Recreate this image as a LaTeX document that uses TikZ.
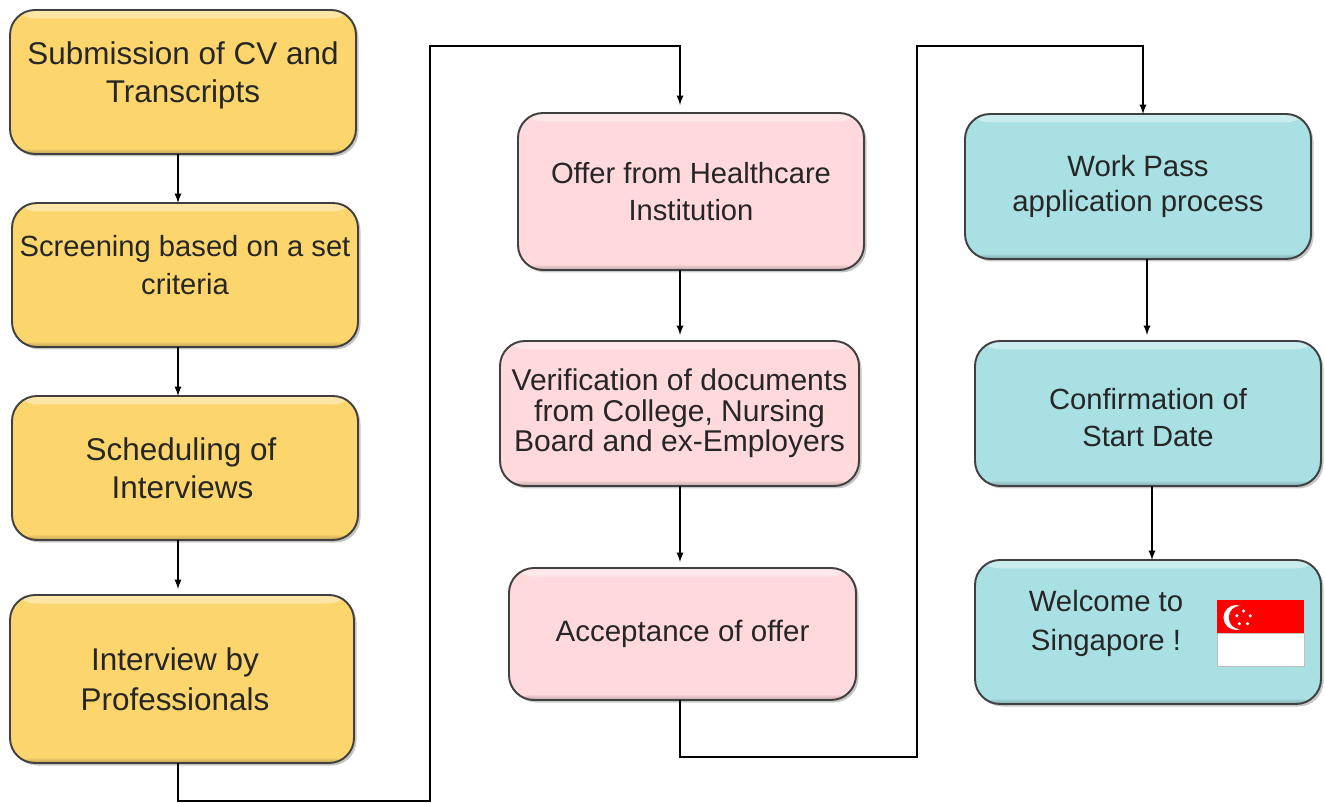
\documentclass[tikz,border=0pt]{standalone}
\usepackage{fontspec}
\setmainfont{Liberation Sans}
\usetikzlibrary{positioning,shadows}

\definecolor{cvyellow}{HTML}{FCD66C}
\definecolor{offerpink}{HTML}{FFD9DC}
\definecolor{passteal}{HTML}{A9E0E3}
\definecolor{flagred}{HTML}{FF0000}

\begin{document}
\begin{tikzpicture}[-latex, semithick,
                    stage/.style={draw=black!75, line width=1.1pt, fill=#1, rounded corners=.5cm, outer sep=0pt,
                                  inner sep=1pt, align=center, text=black!85,
                                  font=\fontsize{16.6}{21.5}\selectfont,
                                  drop shadow={shadow xshift=.05cm, shadow yshift=-.05cm, opacity=.45},
                                  path picture={\shade[draw=none, top color=#1!60!white, bottom color=#1]
                                                (path picture bounding box.north west) rectangle
                                                ([yshift=-.17cm]path picture bounding box.north east);
                                                \shade[draw=none, top color=#1, bottom color=#1!75!black]
                                                ([yshift=.12cm]path picture bounding box.south west) rectangle
                                                (path picture bounding box.south east);}},
                    flow/.style={-latex, black, line width=.85pt, rounded corners=0pt},
                    gap/.style={shorten >=.12cm}]
\useasboundingbox (0,0) rectangle (26.5,-16.06);

% column guides for the connectors
\coordinate (colA) at (3.56,0);
\coordinate (colB) at (13.6,0);
\coordinate (colC) at (22.94,0);
\coordinate (colD) at (23.04,0);
\coordinate (colE) at (22.86,0);
\coordinate (busA) at (8.6,-16.02);
\coordinate (topA) at (8.6,-.92);
\coordinate (busB) at (18.34,-15.14);
\coordinate (topB) at (18.34,-.92);

% CV nodes
\node[stage=cvyellow, minimum width=6.92cm, minimum height=2.88cm, text depth=.4cm, font=\fontsize{17.9}{21.5}\selectfont] (submit) at (3.66,-1.64) {Submission of CV and\\Transcripts};
\node[stage=cvyellow, minimum width=6.92cm, minimum height=2.88cm, text depth=.4cm] (screen) [below=.98cm of submit, xshift=.04cm] {Screening based on a set\\criteria};
\node[stage=cvyellow, minimum width=6.92cm, minimum height=2.88cm, font=\fontsize{17.9}{21.5}\selectfont] (sched) [below=.98cm of screen] {Scheduling of\hspace*{.16cm}\\Interviews\hspace*{.1cm}};
\node[stage=cvyellow, minimum width=6.88cm, minimum height=3.36cm, font=\fontsize{17.9}{22.5}\selectfont] (interview) [below=1.1cm of sched, xshift=-.06cm] {Interview by\hspace*{.28cm}\\Professionals\hspace*{.28cm}};

% offer nodes
\node[stage=offerpink, minimum width=6.92cm, minimum height=3.14cm] (offer) at (13.82,-3.83) {Offer from Healthcare\\Institution};
\node[stage=offerpink, minimum width=7.18cm, minimum height=2.9cm, font=\fontsize{17.1}{17.4}\selectfont] (verify) [below=1.42cm of offer, xshift=-.23cm] {Verification of documents\\from College, Nursing\\Board and ex-Employers};
\node[stage=offerpink, minimum width=6.94cm, minimum height=2.64cm, font=\fontsize{16.8}{21.5}\selectfont] (accept) [below=1.64cm of verify, xshift=.06cm] {Acceptance of offer};

% pass nodes
\node[stage=passteal, minimum width=6.92cm, minimum height=2.9cm, font=\fontsize{16.7}{20}\selectfont] (pass) at (22.76,-3.73) {Work Pass\\application process};
\node[stage=passteal, minimum width=6.92cm, minimum height=2.9cm, text height=1.34cm] (start) [below=1.64cm of pass, xshift=.2cm] {Confirmation of\\Start Date};
\node[stage=passteal, minimum width=6.92cm, minimum height=2.88cm] (welcome) [below=1.48cm of start] {};
\node[align=center, text=black!85, font=\fontsize{16.7}{22}\selectfont] (welcometext) at (22.12,-12.47) {Welcome to\\Singapore !};

% flag
\fill[white, draw=black!25, thin] (24.34,-12.66) rectangle (26.08,-13.32);
\fill[flagred] (24.34,-12) rectangle (26.08,-12.66);
\fill[white] (24.72,-12.35) circle (.25);
\fill[flagred] (24.81,-12.35) circle (.235);
\foreach \a in {90,162,234,306,18}
  \fill[white] (24.87,-12.36) ++(\a:.14) circle (.035);

% yellow edges
\draw[flow] (submit.south -| colA) -- (screen.north -| colA);
\draw[flow] (screen.south -| colA) -- (sched.north -| colA);
\draw[flow, gap] (sched.south -| colA) -- (interview.north -| colA);
\draw[flow] (interview.south -| colA) |- (busA) -- (topA) -| ([yshift=.16cm]offer.north -| colB);

% pink edges
\draw[flow, gap] (offer.south -| colB) -- (verify.north -| colB);
\draw[flow, gap] (verify.south -| colB) -- (accept.north -| colB);
\draw[flow] (accept.south -| colB) |- (busB) -- (topB) -| (pass.north -| colE);

% teal edges
\draw[flow, gap] (pass.south -| colC) -- (start.north -| colC);
\draw[flow] (start.south -| colD) -- (welcome.north -| colD);

\end{tikzpicture}
\end{document}
